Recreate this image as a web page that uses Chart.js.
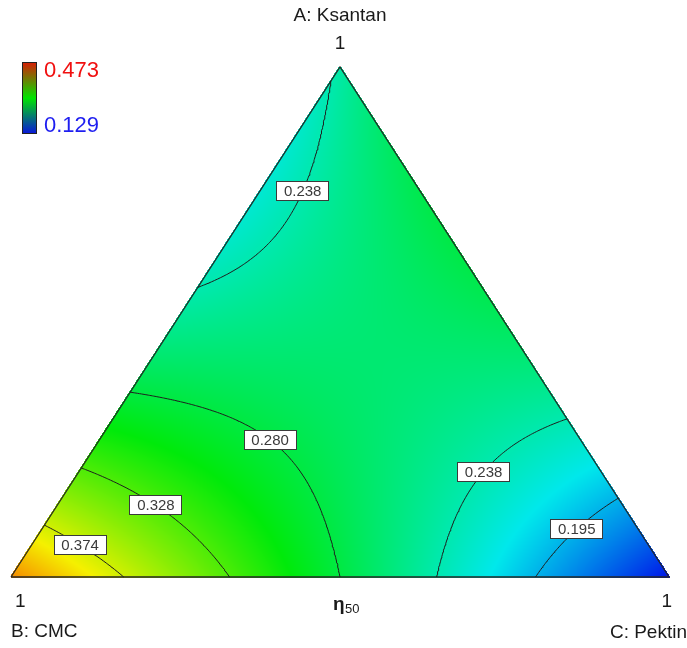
<!DOCTYPE html>
<html>
<head>
<meta charset="utf-8">
<title>η50 – Ksantan / CMC / Pektin</title>
<script src="https://cdn.jsdelivr.net/npm/chart.js@4.4.1/dist/chart.umd.min.js"></script>
<style>
  html, body { margin:0; padding:0; background:#fff; }
  #wrap { width:687px; height:648px; position:relative; }
</style>
</head>
<body>
<div id="wrap"><canvas id="tern"></canvas></div>
<script>
/* ============================
   Mixture model  (A: Ksantan, B: CMC, C: Pektin)
============================ */
const componentNames = ['A: Ksantan', 'B: CMC', 'C: Pektin'];
const responseName = 'η';
const responseSub = '50';
const linearTerms = [0.242, 0.423, 0.137];      // A, B, C
const blendTerms  = [-0.335, 0.320, 0.000];     // AB, AC, BC
const contourLevels = [0.195, 0.238, 0.280, 0.328, 0.374];
const legendRange = [0.129, 0.473];             // low, high

// where each contour label sits (level, then A/B/C fractions)
const labelLevels = [0.238, 0.280, 0.238, 0.328, 0.374, 0.195];
const labelSpots = [
  [0.759, 0.182, 0.059],
  [0.284, 0.456, 0.260],
  [0.214, 0.181, 0.605],
  [0.157, 0.695, 0.148],
  [0.077, 0.849, 0.074],
  [0.106, 0.096, 0.798]
];

function response(a, b, c){
  return linearTerms[0]*a + linearTerms[1]*b + linearTerms[2]*c +
         blendTerms[0]*a*b + blendTerms[1]*a*c + blendTerms[2]*b*c;
}
// ternary -> chart x/y  (B bottom-left, C bottom-right, A top)
const toXY = (a, c) => ({ x: c + a/2, y: a });

/* ---------- colour ramp: blue → cyan → green → yellow → red ---------- */
const ramp = [[0,0,232],[0,232,235],[0,234,10],[245,240,0],[245,0,0]];
function rampColor(v){
  let t = (v - legendRange[0]) / (legendRange[1] - legendRange[0]);
  t = Math.max(0, Math.min(1, t)) * (ramp.length - 1);
  const i = Math.min(ramp.length - 2, Math.floor(t)), f = t - i;
  return ramp[i].map((k, n) => Math.round(k + (ramp[i+1][n] - k) * f));
}

/* ---------- contours by marching triangles ---------- */
const N = 160;
function contourLines(level){
  const val = (i, j) => response(i/N, 1 - (i+j)/N, j/N);
  const segs = [];
  const tri = (p) => {
    const pts = [];
    for (let e = 0; e < 3; e++){
      const p0 = p[e], p1 = p[(e+1)%3];
      const v0 = val(p0[0], p0[1]) - level, v1 = val(p1[0], p1[1]) - level;
      if ((v0 < 0) !== (v1 < 0)){
        const f = v0 / (v0 - v1);
        const a = (p0[0] + (p1[0]-p0[0])*f) / N, c = (p0[1] + (p1[1]-p0[1])*f) / N;
        const key = [p0.join(','), p1.join(',')].sort().join('|');
        pts.push({ key, pt: toXY(a, c) });
      }
    }
    if (pts.length === 2) segs.push(pts);
  };
  for (let i = 0; i < N; i++){
    for (let j = 0; i + j < N; j++){
      tri([[i,j],[i+1,j],[i,j+1]]);
      if (i + j + 2 <= N) tri([[i+1,j],[i+1,j+1],[i,j+1]]);
    }
  }
  // chain the little segments into polylines
  const byKey = {};
  segs.forEach((s, n) => s.forEach(e => (byKey[e.key] = byKey[e.key] || []).push(n)));
  const used = new Array(segs.length).fill(false);
  const lines = [];
  const walk = (start, fromKey) => {
    const out = [];
    let n = start, key = fromKey;
    while (n !== undefined && !used[n]){
      used[n] = true;
      const s = segs[n];
      const [first, second] = s[0].key === key ? [s[0], s[1]] : [s[1], s[0]];
      if (!out.length) out.push(first.pt);
      out.push(second.pt);
      key = second.key;
      n = (byKey[key] || []).find(m => !used[m]);
    }
    return out;
  };
  const ends = Object.keys(byKey).filter(k => byKey[k].length === 1);
  ends.forEach(k => { const n = byKey[k][0]; if (!used[n]) lines.push(walk(n, k)); });
  segs.forEach((s, n) => { if (!used[n]) lines.push(walk(n, s[0].key)); });
  return lines;
}

const contourSets = [];
const contourByLevel = {};
contourLevels.forEach(lv => {
  const lines = contourLines(lv);
  contourByLevel[lv] = lines;
  lines.forEach(pts => contourSets.push({
    data: pts, showLine:true, pointRadius:0, borderColor:'#1e1e1e', borderWidth:1,
    fill:false, clip:false, tension:0
  }));
});

const outlineSet = {
  data: [toXY(0,0), toXY(0,1), toXY(1,0), toXY(0,0)],
  showLine:true, pointRadius:0, borderColor:'#262626', borderWidth:1.3, fill:false, clip:false
};

/* ---------- colour surface under the datasets ---------- */
const surfacePlugin = {
  id:'surface',
  beforeDatasetsDraw(chart){
    const { ctx, chartArea:ca, scales:{ x, y } } = chart;
    const w = Math.ceil(ca.right - ca.left) + 1, h = Math.ceil(ca.bottom - ca.top) + 1;
    const off = document.createElement('canvas'); off.width = w; off.height = h;
    const octx = off.getContext('2d'); const img = octx.createImageData(w, h);
    for (let py = 0; py < h; py++){
      const a = y.getValueForPixel(ca.top + py + 0.5);
      for (let px = 0; px < w; px++){
        const c = x.getValueForPixel(ca.left + px + 0.5) - a/2, b = 1 - a - c;
        if (a < -0.002 || b < -0.002 || c < -0.002) continue;
        const col = rampColor(response(a, b, c));
        const k = (py*w + px)*4;
        img.data[k] = col[0]; img.data[k+1] = col[1]; img.data[k+2] = col[2]; img.data[k+3] = 255;
      }
    }
    octx.putImageData(img, 0, 0);
    ctx.drawImage(off, ca.left, ca.top);
  }
};

/* ---------- contour labels, axis text, legend ---------- */
const textPlugin = {
  id:'texts',
  afterDatasetsDraw(chart){
    const { ctx, chartArea:ca, scales:{ x, y } } = chart;
    const px = p => ({ x: x.getPixelForValue(p.x), y: y.getPixelForValue(p.y) });
    ctx.save();
    ctx.font = '15px "Liberation Sans", Arial, sans-serif';
    ctx.textAlign = 'center'; ctx.textBaseline = 'middle';
    labelLevels.forEach((lv, n) => {
      const s = labelSpots[n];
      const want = px(toXY(s[0], s[2]));
      let best = null, bd = Infinity;
      (contourByLevel[lv] || []).forEach(line => line.forEach(p => {
        const q = px(p), d = (q.x-want.x)**2 + (q.y-want.y)**2;
        if (d < bd){ bd = d; best = q; }
      }));
      if (!best) return;
      const txt = lv.toFixed(3), bw = 53, bh = 20;
      ctx.fillStyle = '#fff'; ctx.strokeStyle = '#3a3a3a'; ctx.lineWidth = 1;
      ctx.fillRect(Math.round(best.x - bw/2), Math.round(best.y - bh/2), bw, bh);
      ctx.strokeRect(Math.round(best.x - bw/2) + 0.5, Math.round(best.y - bh/2) + 0.5, bw - 1, bh - 1);
      ctx.fillStyle = '#3a3a3a';
      ctx.fillText(txt, best.x, best.y + 1);
    });

    // vertex labels
    const top = px(toXY(1,0)), left = px(toXY(0,0)), right = px(toXY(0,1));
    ctx.fillStyle = '#1a1a1a';
    ctx.font = '19px "Liberation Sans", Arial, sans-serif';
    ctx.textAlign = 'center';
    ctx.fillText(componentNames[0], top.x, 16);
    ctx.fillText('1', top.x, 44);
    ctx.textAlign = 'left';
    ctx.fillText('1', left.x + 4, 602);
    ctx.fillText(componentNames[1], left.x, 632);
    ctx.textAlign = 'right';
    ctx.fillText('1', right.x + 3, 602);
    ctx.fillText(componentNames[2], 687, 633);

    // response name under the base
    ctx.textAlign = 'left';
    ctx.font = 'bold 19px "Liberation Sans", Arial, sans-serif';
    ctx.fillText(responseName, 333, 605);
    ctx.font = '13px "Liberation Sans", Arial, sans-serif';
    ctx.fillText(responseSub, 345, 609);

    // colour legend
    const g = ctx.createLinearGradient(0, 62, 0, 134);
    g.addColorStop(0, '#d81c06'); g.addColorStop(0.5, '#00e400'); g.addColorStop(1, '#0a14dc');
    ctx.fillStyle = g; ctx.fillRect(22, 62, 15, 72);
    ctx.strokeStyle = '#222'; ctx.lineWidth = 1; ctx.strokeRect(22.5, 62.5, 14, 71);
    ctx.font = '22px "Liberation Sans", Arial, sans-serif';
    ctx.fillStyle = '#f01010'; ctx.fillText(legendRange[1].toFixed(3), 44, 71);
    ctx.fillStyle = '#1e1ef0'; ctx.fillText(legendRange[0].toFixed(3), 44, 126);
    ctx.restore();
  }
};

new Chart(document.getElementById('tern').getContext('2d'), {
  type:'scatter',
  data:{ datasets:[...contourSets, outlineSet] },
  options:{
    responsive:true, maintainAspectRatio:false, animation:false, events:[],
    layout:{ padding:{ left:11, right:18, top:67, bottom:71 } },
    scales:{
      x:{ type:'linear', min:0, max:1, display:false },
      y:{ type:'linear', min:0, max:1, display:false }
    },
    plugins:{ legend:{ display:false }, tooltip:{ enabled:false } }
  },
  plugins:[surfacePlugin, textPlugin]
});
</script>
</body>
</html>
